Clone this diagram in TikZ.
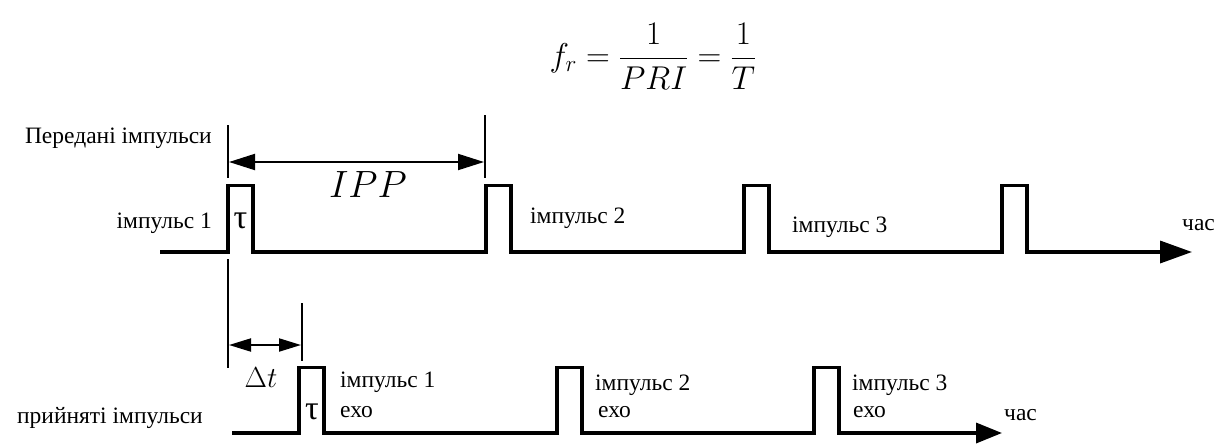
\RequirePackage{fix-cm}
\documentclass[tikz,border=0pt]{standalone}
\usepackage{fontspec}
\setmainfont{Liberation Serif}
\usetikzlibrary{arrows.meta}

\begin{document}
\begin{tikzpicture}[x=1pt,y=-1pt,
    signal/.style={line width=3.5pt},
    marker/.style={line width=2pt},
    dimline/.style={line width=2pt,
      {Triangle[length=26pt,width=16pt]}-{Triangle[length=26pt,width=16pt]}},
    caption/.style={font=\fontsize{23.5}{28}\selectfont,inner sep=0pt},
    symbol/.style={font=\fontsize{#1}{#1}\selectfont,inner sep=0pt}]
  \useasboundingbox (0,0) rectangle (1230,445);

  % formula
  \node[symbol=33] (freq) at (653,56) {$\displaystyle f_r = \frac{1}{PRI} = \frac{1}{T}$};

  % transmitted pulses
  \draw[signal,-{Triangle[length=32pt,width=22pt]}] (160,252)
    foreach \x in {228,486,744,1002} { -- (\x,252) -- (\x,185.5) -- (\x+25,185.5) -- (\x+25,252) }
    -- (1192,252);
  % received echoes
  \draw[signal,-{Triangle[length=26pt,width=20pt]}] (232,433)
    foreach \x in {299,557,814} { -- (\x,433) -- (\x,367.5) -- (\x+25,367.5) -- (\x+25,433) }
    -- (1002,433);

  % markers
  \coordinate (t0top) at (228,125);
  \coordinate (t0mid) at (228,178);
  \coordinate (t0low) at (228,259);
  \coordinate (t0bot) at (228,368);
  \coordinate (t1top) at (485,115);
  \coordinate (t1bot) at (485,178);
  \coordinate (echotop) at (302,303);
  \coordinate (echobot) at (302,361);
  \draw[marker] (t0top) -- (t0mid);
  \draw[marker] (t0low) -- (t0bot);
  \draw[marker] (t1top) -- (t1bot);
  \draw[marker] (echotop) -- (echobot);

  \coordinate (ippa) at (229,162);
  \coordinate (ippb) at (484,162);
  \draw[dimline] (ippa) -- (ippb);
  \node[symbol=38] (ipp) at (368,185) {$IPP$};

  \coordinate (dta) at (229,345);
  \coordinate (dtb) at (301,345);
  \draw[dimline,{Triangle[length=22pt,width=13pt]}-{Triangle[length=22pt,width=13pt]}] (dta) -- (dtb);
  \node[symbol=29] (dt) at (261,378) {$\Delta t$};

  \node[symbol=34] (tau1) at (240.5,221) {τ};
  \node[symbol=34] (tau2) at (312,412) {τ};

  % labels
  \node[caption,anchor=base east] (tx) at (212,143) {Передані імпульси};
  \node[caption,anchor=base east] (p1) at (212,228) {імпульс 1};
  \node[caption,anchor=base west] (p2) at (530,223) {імпульс 2};
  \node[caption,anchor=base west] (p3) at (792,232) {імпульс 3};
  \node[caption,anchor=base west] (time1) at (1182,230) {час};

  \node[caption,anchor=base east] (rx) at (203,423) {прийняті імпульси};
  \node[caption,anchor=base west] (e1) at (340,387) {імпульс 1};
  \node[caption,anchor=base west] (e1b) at (340,417) {ехо};
  \node[caption,anchor=base west] (e2) at (595,390) {імпульс 2};
  \node[caption,anchor=base west] (e2b) at (598,417) {ехо};
  \node[caption,anchor=base west] (e3) at (852,390) {імпульс 3};
  \node[caption,anchor=base west] (e3b) at (853,417) {ехо};
  \node[caption,anchor=base west] (time2) at (1004,420) {час};
\end{tikzpicture}
\end{document}
